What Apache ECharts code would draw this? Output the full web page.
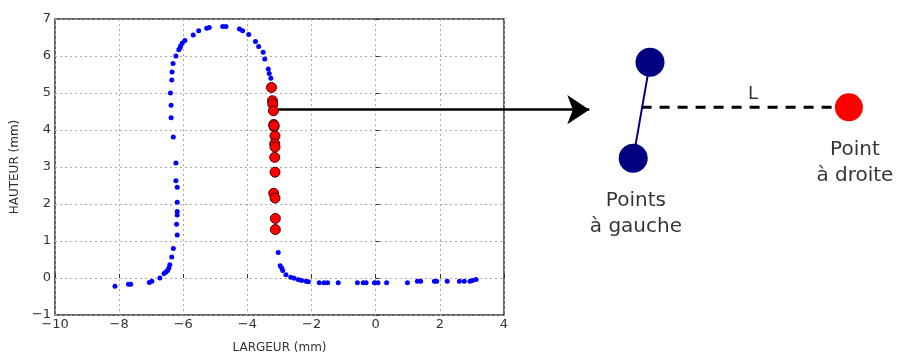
<!DOCTYPE html>
<html>
<head>
<meta charset="utf-8">
<script src="https://cdn.jsdelivr.net/npm/echarts@6/dist/echarts.min.js"></script>
<style>html,body{margin:0;padding:0;background:#fff}#c{width:897px;height:359px}</style>
</head>
<body>
<div id="c"></div>
<script>
// ---- measured profile (blue) ----
const blueX = [-8.13,-7.71,-7.64,-7.06,-6.98,-6.73,-6.60,-6.54,-6.49,-6.45,-6.42,-6.36,-6.31,
  -6.19,-6.21,-6.19,-6.19,-6.19,-6.19,-6.23,-6.23,-6.31,-6.38,-6.38,-6.40,-6.36,-6.35,-6.32,
  -6.23,-6.14,-6.10,-6.08,-6.03,-5.95,-5.69,-5.52,-5.27,-5.19,-4.77,-4.67,-4.25,-4.15,-3.96,-3.75,-3.65,-3.51,-3.46,-3.35,-3.32,-3.27,
  -3.04,-2.98,-2.93,-2.90,-2.80,-2.65,-2.54,-2.41,-2.31,-2.17,-2.10,-1.76,-1.61,-1.50,-1.17,-0.57,-0.39,-0.30,-0.04,0.07,0.34,0.99,1.30,1.40,1.83,1.90,2.23,2.61,2.76,2.94,3.02,3.13];
const blueY = [-0.22,-0.17,-0.17,-0.12,-0.09,0.00,0.12,0.16,0.20,0.27,0.36,0.57,0.80,
  1.16,1.45,1.70,1.80,2.05,2.45,2.63,3.11,3.81,4.33,4.67,5.00,5.35,5.57,5.80,
  6.00,6.17,6.22,6.28,6.35,6.42,6.57,6.68,6.75,6.77,6.80,6.80,6.73,6.68,6.58,6.39,6.26,6.10,5.92,5.65,5.53,5.40,
  0.69,0.33,0.27,0.20,0.09,0.02,-0.01,-0.05,-0.07,-0.09,-0.10,-0.13,-0.13,-0.13,-0.13,-0.13,-0.13,-0.13,-0.13,-0.13,-0.13,-0.13,-0.09,-0.09,-0.09,-0.09,-0.09,-0.09,-0.09,-0.09,-0.07,-0.04];
// ---- selected points (red) ----
const redX = [-3.25,-3.22,-3.21,-3.19,-3.18,-3.17,-3.17,-3.14,-3.15,-3.14,-3.15,-3.14,-3.18,-3.14,-3.13,-3.13];
const redY = [5.15,4.79,4.70,4.52,4.15,4.09,4.12,3.84,3.63,3.54,3.26,2.86,2.29,2.16,1.61,1.31];
// ---- arrow (chart units) ----
const arrowFrom = [-3.05, 4.55];
const arrowTo = [6.66, 4.55];
// ---- axes ----
const xMin = -10, xMax = 4, xStep = 2;
const yMin = -1, yMax = 7, yStep = 1;
const xName = 'LARGEUR (mm)';
const yName = 'HAUTEUR (mm)';
// ---- schematic (diagram units 0..10) ----
const leftPtsX = [2.0, 1.44];
const leftPtsY = [8.59, 5.39];
const rightPt = [8.63, 7.09];
const dashFrom = [1.72, 7.09];
const dashTo = [8.1, 7.09];
const labelL = [5.43, 7.52];
const labelLeft = [1.53, 3.53];
const labelRight = [8.83, 5.23];
const textLeft = 'Points\nà gauche';
const textRight = 'Point\nà droite';

const fmt = v => String(v).replace('-', '\u2212');
const FONT = 'DejaVu Sans';
const chart = echarts.init(document.getElementById('c'), null, {renderer: 'canvas'});
chart.setOption({
  animation: false,
  grid: [
    {left: 55, top: 19, width: 449, height: 299, show: true, borderColor: '#333', borderWidth: 1.5, backgroundColor: 'transparent'},
    {left: 590, top: 20, width: 300, height: 300}
  ],
  xAxis: [
    {gridIndex: 0, type: 'value', min: xMin, max: xMax, interval: xStep,
     name: xName, nameLocation: 'middle', nameGap: 27,
     nameTextStyle: {fontFamily: FONT, fontSize: 12, color: '#333'},
     axisLine: {show: false},
     axisTick: {show: true, inside: true, length: 4, lineStyle: {color: '#333'}},
     axisLabel: {formatter: fmt, fontFamily: FONT, fontSize: 13, color: '#333', margin: 3},
     splitLine: {show: true, lineStyle: {color: '#aaa', type: [2, 3], width: 1}}},
    {gridIndex: 1, type: 'value', min: 0, max: 10, show: false}
  ],
  yAxis: [
    {gridIndex: 0, type: 'value', min: yMin, max: yMax, interval: yStep,
     name: yName, nameLocation: 'middle', nameGap: 30, nameRotate: 90,
     nameTextStyle: {fontFamily: FONT, fontSize: 12, color: '#333'},
     axisLine: {show: false},
     axisTick: {show: true, inside: true, length: 4, lineStyle: {color: '#333'}},
     axisLabel: {formatter: fmt, fontFamily: FONT, fontSize: 13, color: '#333', margin: 4},
     splitLine: {show: true, lineStyle: {color: '#aaa', type: [2, 3], width: 1}}},
    {gridIndex: 1, type: 'value', min: 0, max: 10, show: false}
  ],
  series: [
    {type: 'scatter', xAxisIndex: 0, yAxisIndex: 0, symbol: 'circle', symbolSize: 5,
     itemStyle: {color: '#0000ff', opacity: 1},
     data: blueX.map((x, i) => [x, blueY[i]])},
    {type: 'scatter', xAxisIndex: 0, yAxisIndex: 0, symbol: 'circle', symbolSize: 10,
     itemStyle: {color: '#ff0000', borderColor: '#4a0000', borderWidth: 1, opacity: 1},
     data: redX.map((x, i) => [x, redY[i]])},
    {type: 'lines', coordinateSystem: 'cartesian2d', xAxisIndex: 0, yAxisIndex: 0, clip: false,
     symbol: ['none', 'arrow'], symbolSize: [16, 22],
     lineStyle: {color: '#000', width: 2.5, opacity: 1},
     data: [{coords: [arrowFrom, arrowTo]}]},
    // schematic
    {type: 'line', xAxisIndex: 1, yAxisIndex: 1, symbol: 'none', z: 1,
     lineStyle: {color: '#000', width: 3, type: [10, 8]},
     data: [dashFrom, dashTo]},
    {type: 'line', xAxisIndex: 1, yAxisIndex: 1, symbol: 'none', z: 1,
     lineStyle: {color: '#000080', width: 2},
     data: leftPtsX.map((x, i) => [x, leftPtsY[i]])},
    {type: 'scatter', xAxisIndex: 1, yAxisIndex: 1, symbol: 'circle', symbolSize: 29, z: 3,
     itemStyle: {color: '#000080', opacity: 1},
     data: leftPtsX.map((x, i) => [x, leftPtsY[i]])},
    {type: 'scatter', xAxisIndex: 1, yAxisIndex: 1, symbol: 'circle', symbolSize: 28, z: 3,
     itemStyle: {color: '#ff0000', opacity: 1},
     data: [rightPt]},
    {type: 'scatter', xAxisIndex: 1, yAxisIndex: 1, symbol: 'circle', symbolSize: 1, z: 4,
     itemStyle: {color: 'rgba(0,0,0,0)'},
     label: {show: true, position: 'inside', fontFamily: FONT, color: '#000',
       formatter: p => p.data.t, fontSize: 20, lineHeight: 26, align: 'center', verticalAlign: 'middle'},
     data: [
       {value: labelLeft, t: textLeft},
       {value: labelRight, t: textRight},
       {value: labelL, t: 'L', label: {fontSize: 18}}
     ]}
  ]
});
</script>
</body>
</html>
